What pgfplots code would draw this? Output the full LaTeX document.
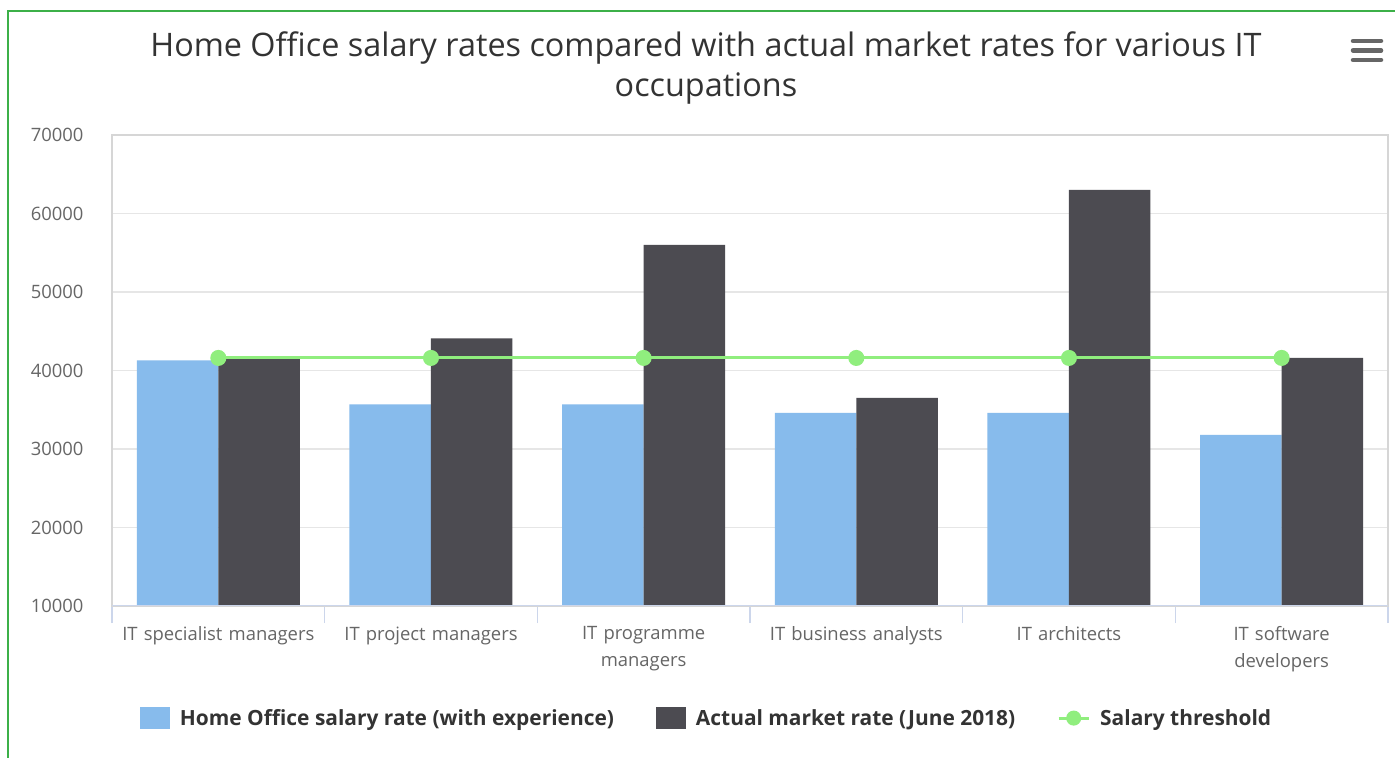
\documentclass[border=0pt]{standalone}
\usepackage{pgfplots}
\pgfplotsset{compat=1.18}
\usepackage{fontspec}
\setmainfont{Open Sans}
\newfontfamily\titlefont{Open Sans}
\definecolor{hoblue}{RGB}{135,187,236}
\definecolor{mkdark}{RGB}{76,75,81}
\definecolor{thgreen}{RGB}{144,238,126}
\definecolor{framegreen}{RGB}{60,176,72}
\definecolor{gridc}{RGB}{230,230,230}
\definecolor{borderc}{RGB}{214,214,214}
\definecolor{tickc}{RGB}{204,214,235}
\definecolor{labc}{RGB}{102,102,102}
\definecolor{titc}{RGB}{51,51,51}
\begin{document}
\begin{tikzpicture}
\useasboundingbox (0,0) rectangle (1395bp,758bp);
\fill[white] (0,0) rectangle (1395bp,758bp);
\draw[framegreen, line width=1.6bp] (8bp,0) -- (8bp,747bp) -- (1395bp,747bp);
\node[font=\titlefont\fontsize{32.5}{41}\selectfont, text=titc, align=center] at (706bp,690bp) {Home Office salary rates compared with actual market rates for various IT\\occupations};
\foreach \yy in {717,707.5,698} {\draw[labc, line width=4.5bp, line cap=round] (1353bp,\yy bp) -- (1381bp,\yy bp);}
\begin{axis}[
  at={(112bp,152bp)}, anchor=south west,
  scale only axis, width=1276bp, height=471bp,
  xmin=-0.5, xmax=5.5, ymin=10000, ymax=70000,
  ytick={10000,20000,...,70000},
  scaled y ticks=false,
  xtick={0,1,2,3,4,5},
  xtick pos=left,
  xticklabels={IT specialist managers, IT project managers, IT programme\\managers, IT business analysts, IT architects, IT software\\developers},
  minor xtick={-0.5,0.5,...,5.5},
  major tick length=0pt, minor tick length=17bp, tick align=outside,
  minor tick style={draw=tickc, line width=1.2bp},
  ymajorgrids, grid style={draw=gridc, line width=1.2bp},
  axis line style={draw=borderc, line width=1.5bp},
  /pgf/number format/assume math mode=true,
  /pgf/number format/set thousands separator={},
  ticklabel style={font=\fontsize{18.5}{27}\selectfont, text=labc},
  xticklabel style={align=center, text width=210bp, yshift=-17bp},
  yticklabel style={xshift=-25bp},
  legend style={at={(0.466,-0.238)}, anchor=center, draw=none, fill=none,
    legend columns=3, font=\bfseries\fontsize{21}{24}\selectfont, text=titc,
    /tikz/every even column/.append style={column sep=40bp},
    column sep=8bp},
  legend cell align=left,
]
\addplot[ybar, bar width=81.5bp, bar shift=-40.75bp, fill=hoblue, draw=none,
  legend image code/.code={\fill[hoblue] (0bp,-11bp) rectangle (30bp,11bp);}]
  coordinates {(0,41300) (1,35700) (2,35700) (3,34600) (4,34600) (5,31800)};
\addlegendentry{Home Office salary rate (with experience)}
\addplot[ybar, bar width=81.5bp, bar shift=40.75bp, fill=mkdark, draw=none,
  legend image code/.code={\fill[mkdark] (0bp,-11bp) rectangle (30bp,11bp);}]
  coordinates {(0,41700) (1,44100) (2,56000) (3,36500) (4,63000) (5,41600)};
\addlegendentry{Actual market rate (June 2018)}
\addplot[thgreen, line width=3bp, mark=*, mark size=6.5bp, mark options={fill=thgreen, draw=thgreen},
  legend image code/.code={\draw[thgreen, line width=3bp] (0bp,0bp) -- (30bp,0bp); \fill[thgreen] (15bp,0bp) circle (6bp);}]
  coordinates {(0,41600) (1,41600) (2,41600) (3,41600) (4,41600) (5,41600)};
\addlegendentry{Salary threshold}
\draw[tickc, line width=1.5bp] (rel axis cs:0,0) -- (rel axis cs:1,0);
\end{axis}
\end{tikzpicture}
\end{document}
